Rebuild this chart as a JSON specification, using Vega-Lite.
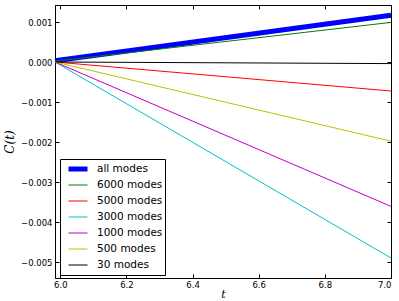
{
  "$schema": "https://vega.github.io/schema/vega-lite/v6.json",
  "width": 336,
  "height": 273,
  "autosize": "none",
  "padding": {"left": 55, "top": 5, "right": 8, "bottom": 23},
  "background": "white",
  "data": {"values": [
    {"series": "all modes", "t": 5.984, "C": 0.00003},
    {"series": "all modes", "t": 7.0, "C": 0.00117},
    {"series": "6000 modes", "t": 5.984, "C": 0.00002},
    {"series": "6000 modes", "t": 7.0, "C": 0.00099},
    {"series": "5000 modes", "t": 5.984, "C": 0.0},
    {"series": "5000 modes", "t": 7.0, "C": -0.000725},
    {"series": "3000 modes", "t": 5.984, "C": 0.0},
    {"series": "3000 modes", "t": 7.0, "C": -0.0049},
    {"series": "1000 modes", "t": 5.984, "C": 0.0},
    {"series": "1000 modes", "t": 7.0, "C": -0.00361},
    {"series": "500 modes", "t": 5.984, "C": 0.0},
    {"series": "500 modes", "t": 7.0, "C": -0.00198},
    {"series": "30 modes", "t": 5.984, "C": 0.0},
    {"series": "30 modes", "t": 7.0, "C": -0.00004}
  ]},
  "layer": [
    {
      "mark": {"type": "line"},
      "encoding": {
        "x": {"field": "t", "type": "quantitative",
              "scale": {"domain": [5.984, 7.0], "nice": false, "zero": false},
              "axis": {"orient": "bottom", "values": [6.0, 6.2, 6.4, 6.6, 6.8, 7.0], "format": ".1f", "labelPadding": 6,
                       "title": "t", "titleFont": "DejaVu Serif", "titleFontStyle": "italic", "titleFontWeight": "normal", "titleFontSize": 11, "titlePadding": 0}},
        "y": {"field": "C", "type": "quantitative",
              "scale": {"domain": [-0.0054, 0.001425], "nice": false, "zero": false},
              "axis": {"orient": "left", "values": [0.001, 0, -0.001, -0.002, -0.003, -0.004, -0.005], "format": ".3f",
                       "title": "C(t)", "titleFont": "DejaVu Serif", "titleFontStyle": "italic", "titleFontWeight": "normal", "titleFontSize": 12, "titlePadding": 4}},
        "color": {"field": "series", "type": "nominal",
                  "scale": {"domain": ["all modes", "6000 modes", "5000 modes", "3000 modes", "1000 modes", "500 modes", "30 modes"],
                            "range": ["#0000ff", "#008000", "#ff0000", "#00bfbf", "#bf00bf", "#bfbf00", "#000000"]},
                  "legend": {"title": null}},
        "strokeWidth": {"field": "series", "type": "nominal",
                  "scale": {"type": "ordinal", "domain": ["all modes", "6000 modes", "5000 modes", "3000 modes", "1000 modes", "500 modes", "30 modes"],
                            "range": [5, 1, 1, 1, 1, 1, 1]},
                  "legend": {"title": null}}
      }
    },
    {
      "mark": {"type": "line", "opacity": 0},
      "encoding": {
        "x": {"field": "t", "type": "quantitative",
              "axis": {"orient": "top", "values": [6.0, 6.2, 6.4, 6.6, 6.8, 7.0], "labels": false, "title": null}},
        "y": {"field": "C", "type": "quantitative",
              "axis": {"orient": "right", "values": [0.001, 0, -0.001, -0.002, -0.003, -0.004, -0.005], "labels": false, "title": null}},
        "detail": {"field": "series"}
      }
    }
  ],
  "resolve": {"axis": {"x": "independent", "y": "independent"}},
  "config": {
    "view": {"stroke": "black", "strokeWidth": 1},
    "axis": {
      "grid": false,
      "domainColor": "black",
      "tickColor": "black",
      "tickSize": -4,
      "labelPadding": 7,
      "labelColor": "black",
      "labelFont": "DejaVu Sans",
      "labelFontSize": 8.5,
      "titleColor": "black"
    },
    "legend": {
      "orient": "none",
      "legendX": 5,
      "legendY": 154,
      "strokeColor": "black",
      "fillColor": "white",
      "padding": 2,
      "cornerRadius": 0,
      "symbolType": "stroke",
      "symbolSize": 361,
      "clipHeight": 16,
      "rowPadding": 0,
      "labelOffset": 7,
      "symbolOffset": 4,
      "labelFont": "DejaVu Sans",
      "labelFontSize": 10.5,
      "labelColor": "black"
    }
  }
}
